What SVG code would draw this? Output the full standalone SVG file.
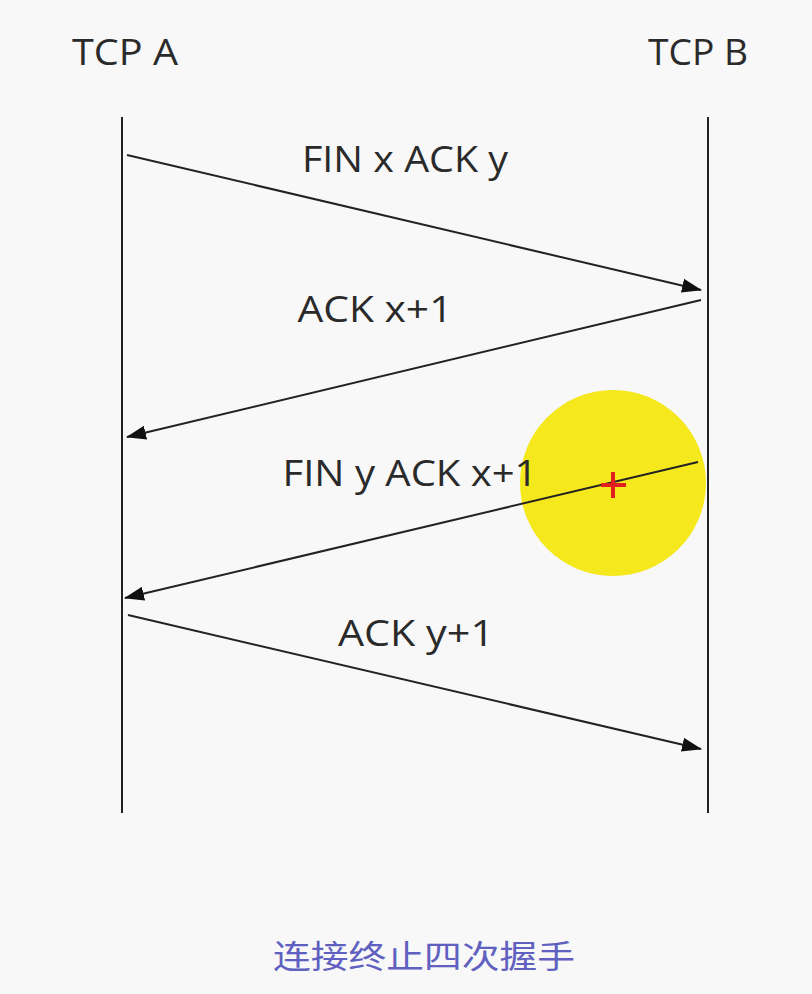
<svg xmlns="http://www.w3.org/2000/svg" width="812" height="994" viewBox="0 0 812 994">
<style>
.lbl{font-family:"Open Sans","DejaVu Sans",sans-serif;font-size:36px;fill:#2a2a2a}
.ln{stroke:#222;stroke-width:2;fill:none}
.msg{stroke:#222;stroke-width:2;fill:none;marker-end:url(#ah)}
.cap{font-family:"Noto Sans CJK SC",sans-serif;font-size:32px;fill:#6060c0}
</style>
<defs>
<marker id="ah" viewBox="0 0 20 14" refX="19" refY="7" markerWidth="20" markerHeight="14" markerUnits="userSpaceOnUse" orient="auto">
<path d="M0,0 L20,7 L0,14 Z" fill="#111"/>
</marker>
</defs>
<rect width="812" height="994" fill="#f8f8f8"/>
<g id="highlight">
<circle cx="613" cy="483" r="93" fill="#f5e81c"/>
</g>
<g id="tcpA">
<text class="lbl" x="125" y="65" text-anchor="middle" textLength="106" lengthAdjust="spacingAndGlyphs">TCP A</text>
<line class="ln" x1="122" y1="117" x2="122" y2="813"/>
</g>
<g id="tcpB">
<text class="lbl" x="698" y="65" text-anchor="middle" textLength="100" lengthAdjust="spacingAndGlyphs">TCP B</text>
<line class="ln" x1="708" y1="117" x2="708" y2="813"/>
</g>
<g id="connectors">
<line class="msg" x1="127" y1="155" x2="701" y2="290"/>
<line class="msg" x1="701" y1="300" x2="127" y2="437"/>
<line class="msg" x1="698" y1="462" x2="125" y2="598"/>
<line class="msg" x1="128" y1="615" x2="701" y2="749"/>
</g>
<g id="labels">
<text class="lbl" x="405" y="172" text-anchor="middle" textLength="206" lengthAdjust="spacingAndGlyphs">FIN x ACK y</text>
<text class="lbl" x="375" y="322" text-anchor="middle" textLength="155" lengthAdjust="spacingAndGlyphs">ACK x+1</text>
<text class="lbl" x="410" y="486" text-anchor="middle" textLength="255" lengthAdjust="spacingAndGlyphs">FIN y ACK x+1</text>
<text class="lbl" x="416" y="646" text-anchor="middle" textLength="156" lengthAdjust="spacingAndGlyphs">ACK y+1</text>
</g>
<g id="cursor">
<path d="M613,472 V498 M601,485 H626" stroke="#e02020" stroke-width="4"/>
</g>
<g id="caption">
<text class="cap" x="424" y="968" text-anchor="middle" textLength="302" lengthAdjust="spacingAndGlyphs">连接终止四次握手</text>
</g>
</svg>
